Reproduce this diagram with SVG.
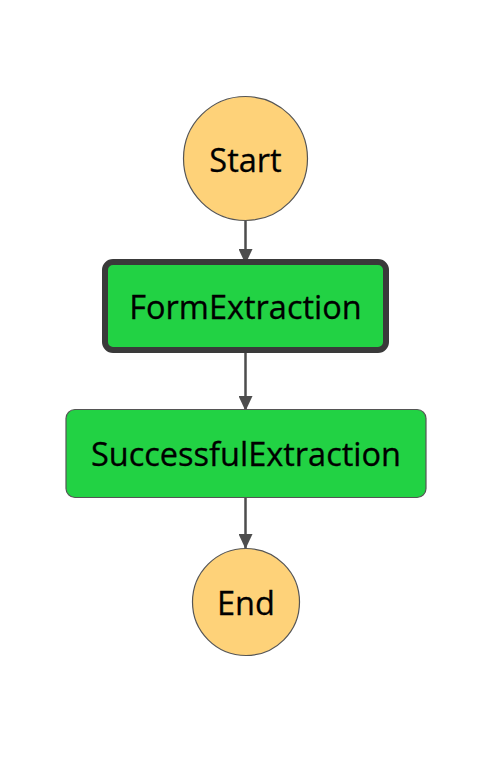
<svg xmlns="http://www.w3.org/2000/svg" width="494" height="770" viewBox="0 0 494 770">
<style>
.term{fill:#FED279;stroke:#555555;stroke-width:1.2}
.task{fill:#22D244;stroke:#555555;stroke-width:1.2}
.active{fill:#22D244;stroke:#3A3A3A;stroke-width:6}
.lbl{font-family:"Open Sans","Liberation Sans",sans-serif;font-size:32.5px;fill:#000;text-anchor:middle;stroke:#000;stroke-width:0.3}
.edge{stroke:#4D4D4D;stroke-width:2.5;fill:none}
</style>
<defs>
<marker id="arr" viewBox="0 0 15 14" refX="15" refY="7" markerWidth="15" markerHeight="14" markerUnits="userSpaceOnUse" orient="auto">
<path d="M0,0 L15,7 L0,14 Z" fill="#4D4D4D"/>
</marker>
</defs>
<rect width="494" height="770" fill="#FFFFFF"/>
<g id="edges">
<line class="edge" x1="245.5" y1="221" x2="245.5" y2="264" marker-end="url(#arr)"/>
<line class="edge" x1="245.5" y1="353" x2="245.5" y2="411" marker-end="url(#arr)"/>
<line class="edge" x1="245.5" y1="498" x2="245.5" y2="549" marker-end="url(#arr)"/>
</g>
<g id="Start">
<circle class="term" cx="245.5" cy="158.5" r="62"/>
<text class="lbl" x="245.5" y="171.5">Start</text>
</g>
<g id="FormExtraction">
<rect class="active" x="105" y="262" width="281" height="88" rx="8"/>
<text class="lbl" x="245.5" y="318.5">FormExtraction</text>
</g>
<g id="SuccessfulExtraction">
<rect class="task" x="66" y="409.5" width="360" height="88" rx="9"/>
<text class="lbl" x="246" y="465.5">SuccessfulExtraction</text>
</g>
<g id="End">
<circle class="term" cx="246" cy="602" r="53.5"/>
<text class="lbl" x="246" y="614.5">End</text>
</g>
</svg>
